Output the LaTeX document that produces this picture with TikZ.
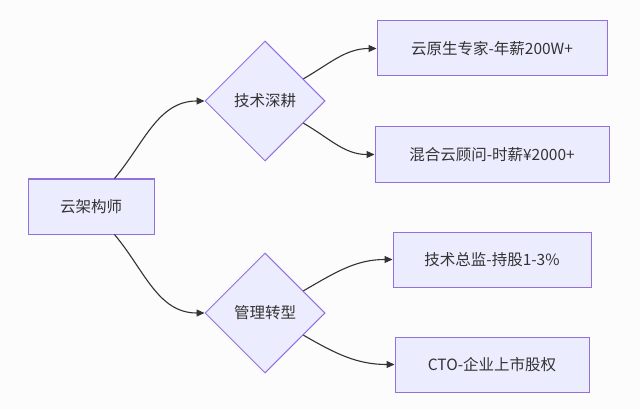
\documentclass[tikz,border=0pt]{standalone}
\usepackage{fontspec}
\newfontfamily\cjk{Noto Sans CJK SC}
\usetikzlibrary{shapes.geometric,arrows.meta}
\definecolor{boxfill}{HTML}{ECECFF}
\definecolor{boxline}{HTML}{9370DB}
\definecolor{edgeline}{HTML}{333333}
\definecolor{pagebg}{HTML}{FCFCFD}
\begin{document}
\begin{tikzpicture}[x=1pt,y=-1pt,
  font=\cjk\fontsize{15.5}{18}\selectfont,
  box/.style={draw=boxline,fill=boxfill,line width=1pt,minimum height=55pt,inner sep=0pt,text=edgeline},
  choice/.style={diamond,aspect=1,draw=boxline,fill=boxfill,line width=1pt,minimum width=120pt,minimum height=120pt,inner sep=0pt,text=edgeline},
  link/.style={draw=edgeline,line width=1.1pt,-{Triangle[length=8pt,width=7pt]}}]
\fill[pagebg] (0,0) rectangle (640,409);
\useasboundingbox (0,0) rectangle (640,409);
%
\node[box,minimum width=126pt] (arch) at (91,206.5) {云架构师};
%
\node[choice] (tech) at (265,101) {技术深耕};
\node[choice] (mgmt) at (265,313) {管理转型};
%
\node[box,minimum width=230pt] (native) at (492,48.5) {云原生专家-年薪200W+};
\node[box,minimum width=234pt] (hybrid) at (492,154.5) {混合云顾问-时薪¥2000+};
\node[box,minimum width=198pt] (cto1) at (492,259.5) {技术总监-持股1-3\%};
\node[box,minimum width=194pt] (cto2) at (492,364.5) {CTO-企业上市股权};
%
\draw[link] (arch) to[out=50,in=180] (tech.west);
\draw[link] (arch) to[out=-50,in=180] (mgmt.west);
\draw[link] (tech) to[out=30,in=180] (native.west);
\draw[link] (tech) to[out=-30,in=180] (hybrid.west);
\draw[link] (mgmt) to[out=30,in=180] (cto1.west);
\draw[link] (mgmt) to[out=-30,in=180] (cto2.west);
\end{tikzpicture}
\end{document}
